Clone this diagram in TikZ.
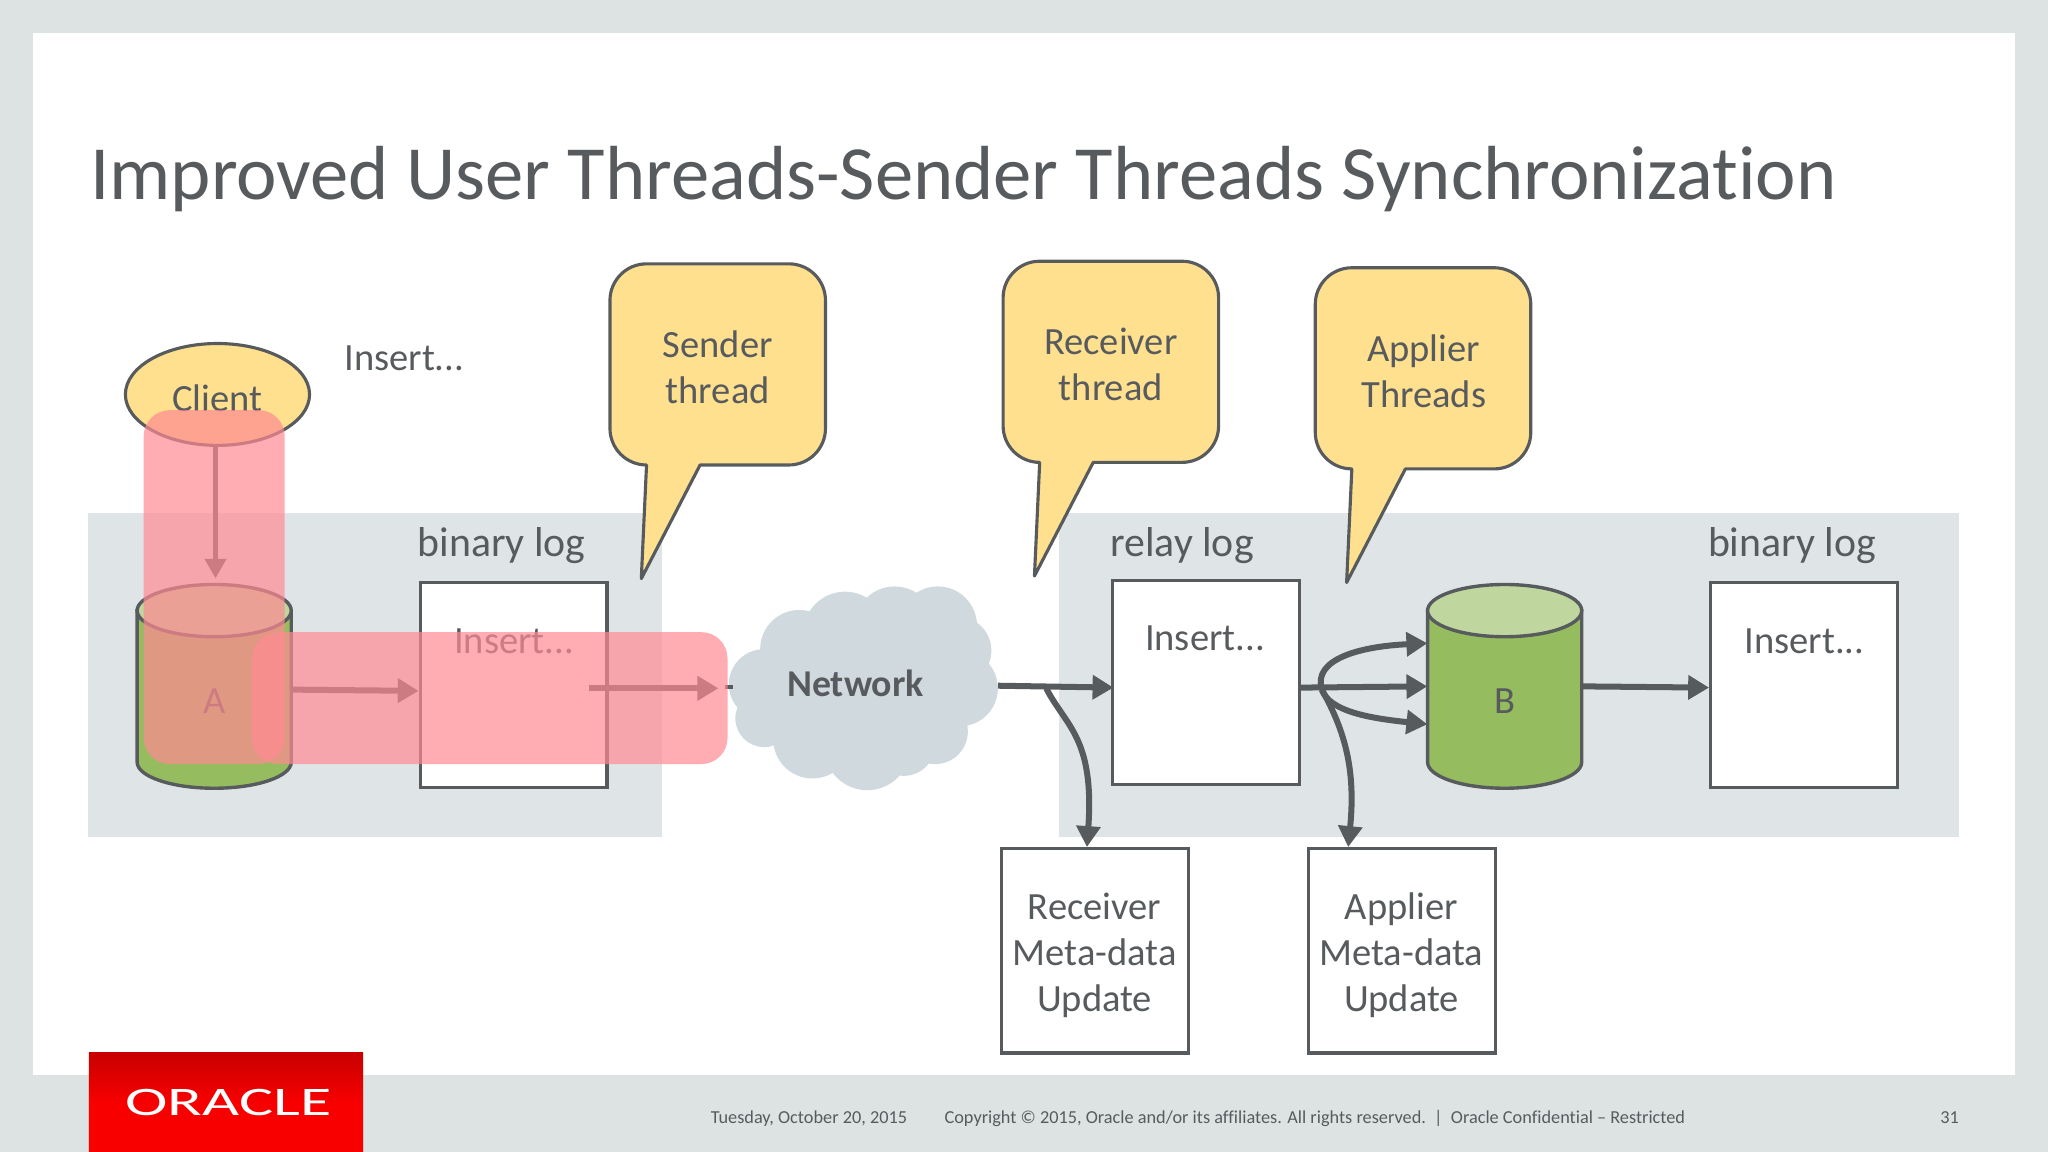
\documentclass[tikz,border=0pt]{standalone}
\usepackage{fontspec}
\setmainfont[Ligatures=CommonOff]{Carlito}
\usetikzlibrary{shapes.geometric,arrows.meta,positioning}
\definecolor{slidebg}{HTML}{DCE3E2}
\definecolor{panelbg}{HTML}{DFE5E7}
\definecolor{inkgrey}{HTML}{585B5E}
\definecolor{bubblefill}{HTML}{FFE08F}
\definecolor{cloudfill}{HTML}{CFD9DE}
\definecolor{dbgreen}{HTML}{95BC5E}
\definecolor{dbtop}{HTML}{BFD79E}
\definecolor{hilite}{HTML}{FF8A92}
\definecolor{logotop}{HTML}{C80000}
\definecolor{logobot}{HTML}{F80000}
\tikzset{
  txt/.style={text=inkgrey,font=\fontsize{29.5}{35}\selectfont,align=center,inner sep=0pt},
  logname/.style={text=inkgrey,font=\fontsize{32}{36}\selectfont,inner sep=0pt},
  logbox/.style={draw=inkgrey,fill=white,line width=2.4pt,minimum width=143pt,minimum height=156.5pt,anchor=north west,inner sep=0pt},
  dbspot/.style={minimum width=118pt,minimum height=157pt,inner sep=0pt},
  bubble/.style={draw=inkgrey,fill=bubblefill,line width=2.4pt,line join=round},
  flow/.style={draw=inkgrey,line width=4.6pt,-{Triangle[length=16pt,width=18pt]}},
  thinflow/.style={draw=inkgrey,line width=3.6pt,-{Triangle[length=15pt,width=16pt]}},
  band/.style={fill=hilite,fill opacity=.7,rounded corners=20pt},
  foot/.style={text=inkgrey,font=\fontsize{14}{16}\selectfont,inner sep=0pt},
  speech/.pic={
    \draw[bubble] (69,154) [rounded corners=28pt] -- (165,154) -- (165,0) -- (0,0) -- (0,154)
      [sharp corners] -- (28,154) -- (24,241) -- cycle;
  },
  drum/.pic={
    \draw[draw=inkgrey,fill=dbgreen,line width=2.6pt] (-59,-58) -- (-59,58) arc (180:0:59 and 20) -- (59,-58) -- cycle;
    \draw[draw=inkgrey,fill=dbtop,line width=2.6pt] (0,-58) ellipse (59 and 20);
  }
}
\begin{document}
\begin{tikzpicture}[x=1pt,y=-1pt]
    \path[use as bounding box,fill=slidebg] (0,0) rectangle (1568,882);
    \fill[white] (25,25) rectangle (1543,823);

    \node[text=inkgrey,font=\fontsize{58.7}{66}\selectfont,anchor=base west,inner sep=0pt] (title) at (69,153)
        {Improved User Threads-Sender Threads Synchronization};

    % master and slave areas
    \fill[panelbg] (67,393) rectangle (507,641);
    \fill[panelbg] (811,393) rectangle (1500,641);

    \node[ellipse,draw=inkgrey,fill=bubblefill,line width=2.4pt,minimum width=141pt,minimum height=78pt] (client) at (166.5,302) {};
    \node[txt] (clientl) at (166.5,305) {Client};
    \node[txt] (stmt) at (309.5,274) {Insert...};

    \pic at (467,202) {speech};
    \pic at (768,200) {speech};
    \pic at (1007,205) {speech};
    \node[txt] (sender) at (549.5,281) {Sender\\thread};
    \node[txt] (receiver) at (850.5,279) {Receiver\\thread};
    \node[txt] (applier) at (1090,284) {Applier\\Threads};

    \node[dbspot] (dbA) at (164,525.5) {};
    \node[dbspot] (dbB) at (1152,525.5) {};
    \pic at (dbA.center) {drum};
    \pic at (dbB.center) {drum};
    \node[txt] (dbAl) at (164,537) {A};
    \node[txt] (dbBl) at (1152,537) {B};

    \node[logbox] (binA) at (320.5,445) {};
    \node[logbox] (relay) at (850.5,443) {};
    \node[logbox] (binB) at (1308.5,445) {};
    \node[logbox] (recv) at (765.5,648.5) {};
    \node[logbox] (appl) at (1000.5,648.5) {};

    \node[logname] (binAl) at (384,418) {binary log};
    \node[logname] (relayl) at (905,418) {relay log};
    \node[logname] (binBl) at (1372,418) {binary log};
    \node[txt] (binAt) at (393.5,491) {Insert...};
    \node[txt] (relayt) at (922.5,489) {Insert...};
    \node[txt] (binBt) at (1381.5,491) {Insert...};
    \node[txt] (recvt) at (838,731.5) {Receiver\\Meta-data\\Update};
    \node[txt] (applt) at (1073,731.5) {Applier\\Meta-data\\Update};

    % network cloud
    \fill[cloudfill] (660,525) circle (62) (612,497) circle (30) (647,485) circle (32) (685,480) circle (31)
        (718,479) circle (30) (733,498) circle (26) (735,527) circle (29) (716,560) circle (25)
        (692,570) circle (24) (664,572) circle (33) (622,566) circle (30) (585,550) circle (22) (585,524) circle (27);
    \node[minimum width=218pt,minimum height=40pt,inner sep=0pt,text=inkgrey,font=\fontsize{29}{34}\selectfont\bfseries] (net) at (655,523) {Network};

    \coordinate (netin) at (550,527);
    \coordinate (binAout) at (451,527);
    \coordinate (netfork) at (801,527);
    \coordinate (relayfork) at (1012,528);
    \coordinate (stubA) at (555,526);
    \coordinate (stubB) at (561,526);

    \draw[thinflow] ([xshift=-1.5pt]client.south) -- ([xshift=1pt,yshift=4pt]dbA.north);
    \draw[flow] ([yshift=-2.5pt]dbA.east) -- ([yshift=-4.5pt]binA.west);
    \draw[flow] (binAout) -- (netin);
    \draw[draw=inkgrey,line width=3pt] (stubA) -- (stubB);
    \draw[flow] ([yshift=-2pt]net.east) -- ([xshift=2pt,yshift=-4pt]relay.west);
    \draw[flow] ([yshift=-4pt]relay.east) -- (dbB.west);
    \draw[flow] (dbB.east) -- ([yshift=-2pt]binB.west);
    \draw[flow] (netfork) .. controls (816,556) and (838,565) .. ([xshift=-6pt]recv.north);
    \draw[flow] (relayfork) .. controls (1005,505) and (1040,495) .. ([yshift=33pt]dbB.west);
    \draw[flow] (relayfork) .. controls (1018,545) and (1050,550) .. ([yshift=-29pt]dbB.west);
    \draw[flow] (relayfork) .. controls (1030,560) and (1038,590) .. ([xshift=-41pt]appl.north);

    % highlight
    \path[band] (110,314) rectangle (218,585);
    \path[band] (193,484) rectangle (557,585);

    % footer
    \shade[top color=logotop,bottom color=logobot,middle color=logobot] (68,806) rectangle (278,882);
    \node[text=white,font=\fontsize{31}{34}\selectfont,xscale=1.58,inner sep=0pt] (logo) at (175,844) {ORACLE};
    \node[text=white,font=\fontsize{6}{7}\selectfont,inner sep=0pt] (logor) at (251,836) {®};
    \node[foot,anchor=base west] (date) at (544,860) {Tuesday, October 20, 2015};
    \node[foot,anchor=base west] (copy) at (723,860) {Copyright © 2015, Oracle and/or its affiliates. All rights reserved.~~|~~Oracle Confidential – Restricted};
    \node[foot,anchor=base east] (page) at (1500,860) {31};
\end{tikzpicture}
\end{document}
